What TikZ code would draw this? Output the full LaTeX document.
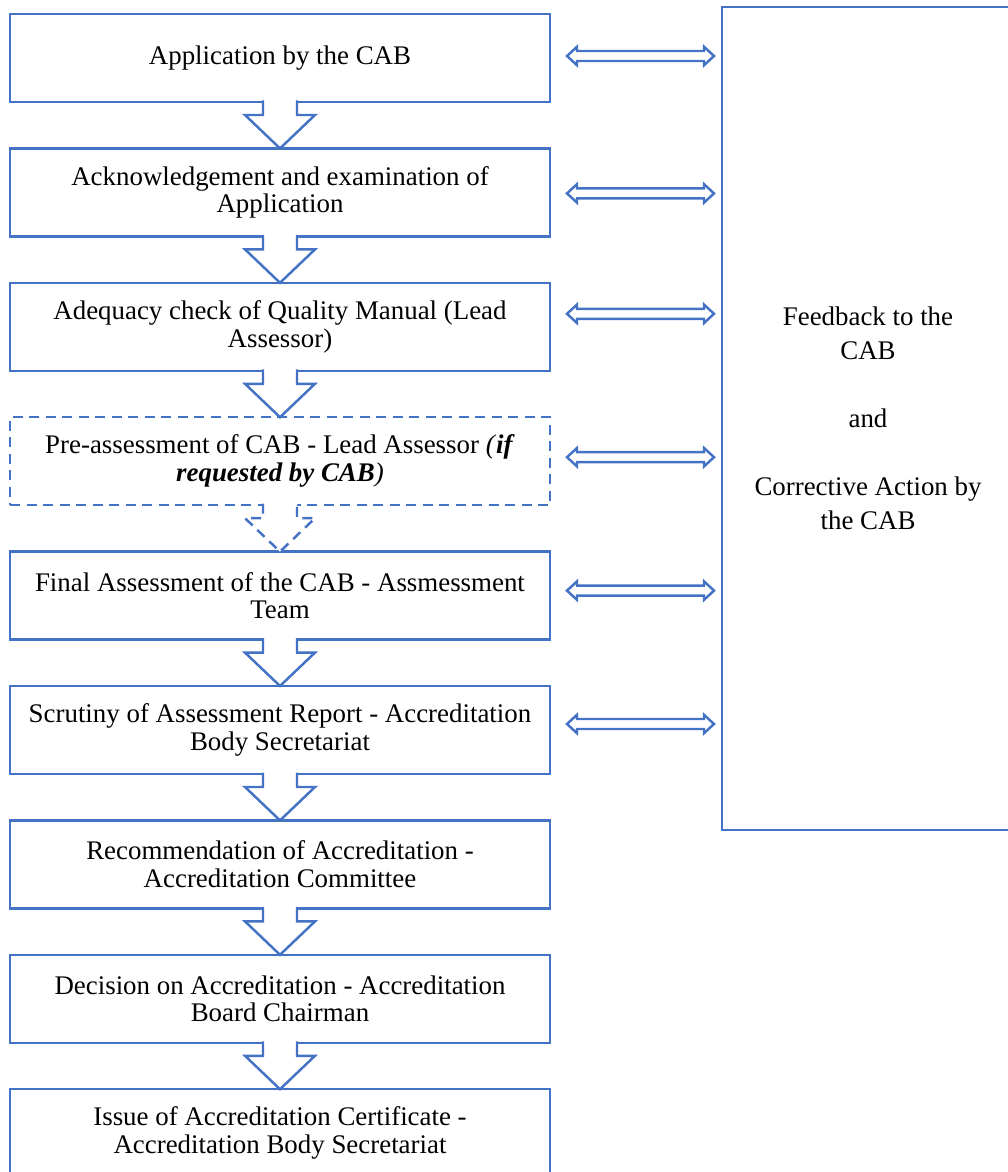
\documentclass[tikz,border=0pt]{standalone}
\usepackage{fontspec}
\setmainfont{Liberation Serif}
\usepackage{xcolor}
\definecolor{bleu}{HTML}{4472C4}
\usepackage{tikz}
\usetikzlibrary{positioning,arrows.meta,calc}

\begin{document}
\begin{tikzpicture}[font=\fontsize{15.3}{15.8}\selectfont,
  etape/.style={draw=bleu,line width=1.4pt,fill=white,minimum width=10.8cm,
    minimum height=1.76cm,align=center,outer sep=0pt},
  facultatif/.style={dash pattern=on 0.2cm off 0.13cm},
  fleche/.style={draw=bleu,line width=1.4pt,fill=white},
  retour/.style={draw=bleu,line width=1.4pt}]
\useasboundingbox (0,0) rectangle (20.16,-23.44);
\clip (0,0) rectangle (20.16,-23.44);
% étapes de la procédure
\node[etape] (app) at (5.6,-1.16) {Application by the CAB};
\node[etape,below=0.928cm of app] (ack) {Acknowledgement and examination of\\Application};
\node[etape,below=0.928cm of ack] (qm) {Adequacy check of Quality Manual (Lead\\Assessor)};
\node[etape,facultatif,below=0.928cm of qm] (pre)
  {Pre-assessment of CAB - Lead Assessor \textit{(}\textbf{\textit{if}}\\
   \textbf{\textit{requested by CAB}}\textit{)}};
\node[etape,below=0.928cm of pre] (final) {Final Assessment of the CAB - Assmessment\\Team};
\node[etape,below=0.928cm of final] (scrut) {Scrutiny of Assessment Report - Accreditation\\Body Secretariat};
\node[etape,below=0.928cm of scrut] (reco) {Recommendation of Accreditation -\\Accreditation Committee};
\node[etape,below=0.928cm of reco] (dec) {Decision on Accreditation - Accreditation\\Board Chairman};
\node[etape,below=0.928cm of dec] (cert) {Issue of Accreditation Certificate -\\Accreditation Body Secretariat};
% flèches creuses entre les étapes
\foreach \a/\b/\st in {app/ack/solid,ack/qm/solid,qm/pre/solid,pre/final/facultatif,
    final/scrut/solid,scrut/reco/solid,reco/dec/solid,dec/cert/solid}{
  \draw[fleche,\st] ($(\a.south)+(-0.34,0.03)$) |- ($(\a.south)+(-0.7,-0.26)$)
    -- (\b.north) -- ($(\a.south)+(0.7,-0.26)$) -| ($(\a.south)+(0.34,0.03)$);
}
% retour vers l'organisme
\node[draw=bleu,line width=1.4pt,minimum width=5.84cm,minimum height=16.46cm,
  align=center,outer sep=0pt,font=\fontsize{15.3}{19.3}\selectfont] (fb) at (17.36,-8.37)
  {Feedback to the\\CAB\\[19.3pt]and\\[19.3pt]Corrective Action by\\the CAB};
% doubles flèches creuses
\foreach \n/\dy in {app/0.04,ack/-0.02,qm/0.26,pre/0.08,final/0.1,scrut/0.12}{
  \coordinate (g) at ($(\n.east)+(0.34,\dy)$);
  \coordinate (d) at ($(\n.east -| fb.west)+(-0.16,\dy)$);
  \draw[retour] (g) -- ++(0.2,0.185) |- ($(d)+(-0.2,0.1)$) -- ++(0,0.085) -- (d)
    -- ++(-0.2,-0.185) |- ($(g)+(0.2,-0.1)$) -- ++(0,-0.085) -- cycle;
}
\end{tikzpicture}
\end{document}
